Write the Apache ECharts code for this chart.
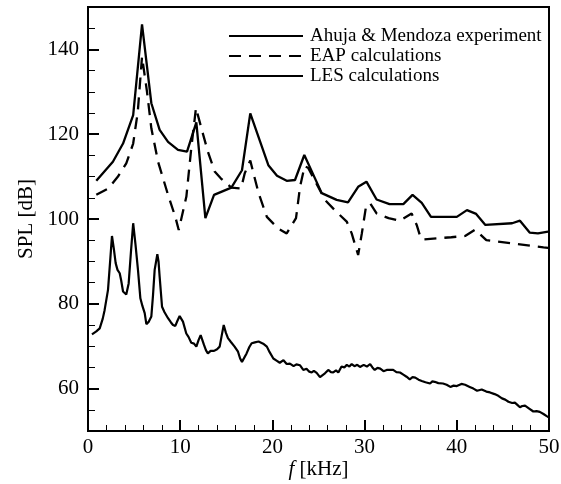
<!DOCTYPE html>
<html>
<head>
<meta charset="utf-8">
<script src="https://cdn.jsdelivr.net/npm/echarts@6/dist/echarts.min.js"></script>
<style>html,body{margin:0;padding:0;background:#fff}#c{width:561px;height:484px}</style>
</head>
<body>
<div id="c"></div>
<script>
var seriesNames = ['Ahuja & Mendoza experiment', 'EAP calculations', 'LES calculations'];
var yTickLabels = [60, 80, 100, 120, 140];
var xTickLabels = [0, 10, 20, 30, 40, 50];

var expF = [0.9,2.7,3.8,4.9,5.86,6.87,7.77,8.68,9.76,10.74,11.75,12.73,13.67,15.55,16.7,17.6,19.56,20.5,21.55,22.45,23.46,25.35,26.97,28.2,29.3,30.2,31.3,32.7,34.2,35.2,36.2,37.2,40.0,41.1,42.1,43.1,46.0,46.85,47.9,48.8,49.9];
var expSPL = [109.0,113.5,117.8,124.5,145.9,127.3,121.0,118.2,116.3,115.9,122.8,100.2,105.7,107.4,111.5,124.9,112.7,110.2,109.0,109.2,115.1,106.1,104.5,103.9,107.6,108.8,104.6,103.5,103.5,105.7,103.8,100.5,100.5,102.1,101.2,98.6,99.0,99.6,96.8,96.6,97.0];

var eapF = [0.9,2.2,3.25,4.15,4.9,5.4,5.86,6.4,6.87,7.6,8.68,9.47,9.84,10.67,11.2,11.71,12.3,13.0,13.74,14.4,15.55,16.6,17.0,17.6,17.9,18.5,19.4,20.6,21.55,22.56,23.0,23.5,23.9,25.7,26.8,28.06,28.6,29.3,29.7,30.15,30.6,31.3,32.6,33.8,35.1,35.65,36.1,36.4,39.4,40.9,42.0,43.2,46.5,49.4,49.9];
var eapSPL = [105.7,107.2,110.0,113.1,117.8,125.3,138.3,130.0,121.4,113.5,105.7,100.5,97.4,105.3,116.7,126.2,121.4,115.9,111.2,109.6,107.4,107.2,110.8,113.8,111.2,106.1,100.5,97.8,96.6,100.2,107.6,112.5,112.0,104.5,102.0,99.4,96.6,91.5,96.6,102.9,103.7,101.3,100.2,99.6,101.3,98.6,95.4,95.2,95.7,96.0,97.5,95.0,94.1,93.3,93.2];

var lesF = [0.43,0.9,1.27,1.6,1.8,2.17,2.4,2.6,2.8,3.0,3.2,3.44,3.6,3.8,4.15,4.41,4.65,4.9,5.15,5.42,5.68,5.9,6.15,6.33,6.6,6.87,7.05,7.23,7.52,7.65,7.77,8.03,8.3,8.68,9.0,9.22,9.47,9.7,9.94,10.3,10.66,10.9,11.2,11.5,11.75,12.0,12.22,12.58,12.8,13.0,13.3,13.67,14.0,14.28,14.5,14.72,14.95,15.18,15.5,15.9,16.27,16.5,16.7,16.85,17.2,17.5,17.75,18.1,18.5,18.65,19.0,19.4,19.7,20.1,20.45,20.8,21.2,21.55,21.9,22.3,22.6,23.0,23.35,23.7,24.0,24.26,24.5,24.8,25.16,25.45,25.7,26.06,26.35,26.6,26.9,27.15,27.5,27.8,28.07,28.35,28.6,28.9,29.2,29.5,29.9,30.25,30.6,30.85,31.1,31.4,31.7,32.05,32.4,32.75,33.1,33.45,33.84,34.2,34.55,34.9,35.2,35.5,35.85,36.2,36.6,37.1,37.35,37.6,38.0,38.5,38.9,39.3,39.65,40.0,40.5,40.9,41.4,41.8,42.2,42.7,43.2,43.6,44.1,44.5,44.9,45.25,45.6,46.0,46.3,46.6,46.85,47.1,47.4,47.85,48.3,48.65,49.0,49.4,49.75,50.0];
var lesSPL = [72.8,73.5,74.2,76.5,78.5,83.3,90.0,96.0,93.0,89.6,88.0,87.2,85.5,82.9,82.2,84.8,92.0,99.0,94.0,88.0,81.3,79.5,77.8,75.2,75.8,77.0,82.0,88.0,91.7,90.0,86.4,79.3,78.0,76.6,75.6,75.0,74.8,76.0,77.1,75.8,73.0,72.2,70.8,70.6,69.9,71.5,72.6,70.3,69.0,68.3,68.9,68.9,69.3,69.9,72.5,75.0,73.2,71.9,71.0,69.9,68.7,67.1,66.3,66.3,68.3,69.8,70.7,70.9,71.1,71.3,70.6,69.9,68.6,67.1,66.6,66.1,66.7,65.8,65.9,65.3,65.7,65.5,64.4,64.7,64.0,63.8,64.2,63.7,62.7,63.2,63.6,64.4,63.9,63.8,64.3,63.8,65.2,65.0,65.6,65.2,65.8,65.3,65.6,65.1,65.6,65.2,65.8,65.0,64.4,64.9,64.7,64.1,64.4,64.4,64.4,63.9,63.8,63.3,62.8,62.2,62.7,62.6,62.1,61.8,61.5,61.2,61.7,61.6,61.3,61.2,60.9,60.4,60.7,60.6,61.1,60.9,60.4,60.0,59.5,59.8,59.3,59.1,58.7,58.3,57.7,57.4,56.9,56.6,56.7,56.1,55.6,55.9,56.0,55.3,54.6,54.7,54.5,54.0,53.5,53.2];

function pairs(xs, ys) { return xs.map(function (x, i) { return [x, ys[i]]; }); }

var FONT = 'Liberation Serif';
var minorYTicks = [];
for (var v = 50; v <= 150; v += 5) { if (yTickLabels.indexOf(v) < 0) minorYTicks.push(v); }

var chart = echarts.init(document.getElementById('c'));
chart.setOption({
  animation: false,
  backgroundColor: '#fff',
  grid: { left: 88, right: 12, top: 7, bottom: 53, outerBoundsMode: 'none', containLabel: false, show: true, borderColor: '#000', borderWidth: 2, backgroundColor: 'transparent' },
  legend: {
    orient: 'vertical', left: 228, top: 26, padding: 0, itemWidth: 74, itemHeight: 14, itemGap: 0,
    itemStyle: { color: 'transparent', borderColor: 'transparent', borderWidth: 0 },
    textStyle: { fontFamily: FONT, fontSize: 19, color: '#000', lineHeight: 20, padding: [0, 0, 0, 2] },
    data: seriesNames
  },
  xAxis: {
    type: 'value', min: 0, max: 50, interval: 10,
    name: '{i|f} [kHz]', nameLocation: 'middle', nameGap: 28, nameMoveOverlap: false,
    nameTextStyle: { fontFamily: FONT, fontSize: 21, color: '#000', rich: { i: { fontFamily: FONT, fontStyle: 'italic', fontSize: 21, color: '#000' } } },
    axisLine: { show: true, lineStyle: { color: '#000', width: 2 } },
    axisTick: { show: true, inside: true, length: 11, lineStyle: { color: '#000', width: 2 } },
    minorTick: { show: true, splitNumber: 5, length: 6, lineStyle: { color: '#000', width: 1 } },
    axisLabel: { fontFamily: FONT, fontSize: 21, color: '#000', margin: 6, customValues: xTickLabels },
    splitLine: { show: false }
  },
  yAxis: [{
    type: 'value', min: 50, max: 150, interval: 10,
    name: 'SPL [dB]', nameLocation: 'middle', nameGap: 51, nameMoveOverlap: false,
    nameTextStyle: { fontFamily: FONT, fontSize: 21, color: '#000' },
    axisLine: { show: true, lineStyle: { color: '#000', width: 2 } },
    axisTick: { show: true, inside: true, length: 11, lineStyle: { color: '#000', width: 2 }, customValues: yTickLabels },
    axisLabel: { fontFamily: FONT, fontSize: 21, color: '#000', margin: 9, customValues: yTickLabels },
    splitLine: { show: false }
  }, {
    type: 'value', min: 50, max: 150, interval: 5, position: 'left',
    axisLine: { show: false },
    axisTick: { show: true, inside: true, length: 7, lineStyle: { color: '#000', width: 1 }, customValues: minorYTicks },
    axisLabel: { show: false },
    splitLine: { show: false }
  }],
  series: [
    { name: seriesNames[0], type: 'line', data: pairs(expF, expSPL), symbol: 'none', lineStyle: { color: '#000', width: 2.3 }, itemStyle: { color: '#000' } },
    { name: seriesNames[1], type: 'line', data: pairs(eapF, eapSPL), symbol: 'none', lineStyle: { color: '#000', width: 2.3, type: [12, 8] }, itemStyle: { color: '#000' } },
    { name: seriesNames[2], type: 'line', data: pairs(lesF, lesSPL), symbol: 'none', lineStyle: { color: '#000', width: 2.2 }, itemStyle: { color: '#000' } }
  ]
});
</script>
</body>
</html>
